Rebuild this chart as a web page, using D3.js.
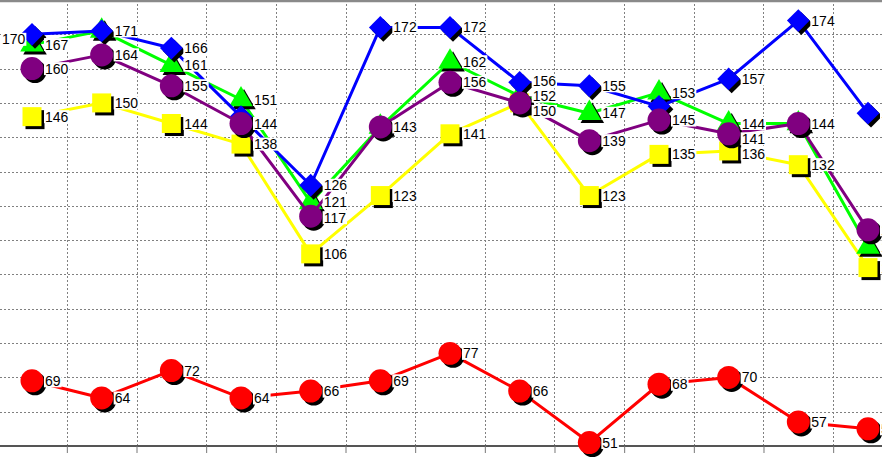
<!DOCTYPE html>
<html><head><meta charset="utf-8">
<script src="https://cdn.jsdelivr.net/npm/d3@7"></script>
<style>html,body{margin:0;padding:0;background:#fff;overflow:hidden}svg{display:block}</style>
</head><body><svg id="chart" width="882" height="458"></svg>
<script>
// ---- data ----
const categories = ["1","2","3","4","5","6","7","8","9","10","11","12","13"];
const blueValues   = [170,171,166,146,126,172,172,156,155,149,157,174,147];
const greenValues  = [167,171,161,151,121,143,162,152,147,153,144,144,108];
const purpleValues = [160,164,155,144,117,143,156,150,139,145,141,144,113];
const yellowValues = [146,150,144,138,106,123,141,150,123,135,136,132,102];
const redValues    = [69,64,72,64,66,69,77,66,51,68,70,57,55];
const yTickValues  = [50,60,70,80,90,100,110,120,130,140,150,160,170,180];

// ---- series styling (drawing order) ----
const series = [
  {name:"yellow", values:yellowValues, color:"#ffff00", shape:"square"},
  {name:"green",  values:greenValues,  color:"#00ff00", shape:"triangle"},
  {name:"blue",   values:blueValues,   color:"#0000ff", shape:"diamond"},
  {name:"purple", values:purpleValues, color:"#800080", shape:"circle"},
  {name:"red",    values:redValues,    color:"#ff0000", shape:"circle"}
];
const labelOrder = ["green","purple","yellow","red","blue"];

const W = 882, H = 458;
const svg = d3.select("#chart");
const x = d3.scaleBand().domain(categories).range([-2.83, 902.83]).padding(0);
const xIdx = d3.scaleLinear().domain([0, categories.length]).range([-2.83, 902.83]);
const y = d3.scaleLinear().domain([50, 180]).range([446, 0]);
const cx = c => x(c) + x.bandwidth() / 2;

// grid
const grid = svg.append("g");
grid.selectAll("line.h").data(yTickValues.filter(v => v > 50 && v < 180)).join("line")
  .attr("x1", 0).attr("x2", W).attr("y1", d => Math.round(y(d)) + 0.5).attr("y2", d => Math.round(y(d)) + 0.5)
  .attr("stroke", "#808080").attr("stroke-width", 1).attr("stroke-dasharray", "2,2");
grid.selectAll("line.v").data(d3.range(1, categories.length)).join("line")
  .attr("x1", d => Math.round(xIdx(d)) + 0.5).attr("x2", d => Math.round(xIdx(d)) + 0.5)
  .attr("y1", y(180)).attr("y2", y(50))
  .attr("stroke", "#808080").attr("stroke-width", 1).attr("stroke-dasharray", "2,2");

// top border
svg.append("line").attr("x1", 0).attr("x2", W).attr("y1", 1).attr("y2", 1)
  .attr("stroke", "#8a8a8a").attr("stroke-width", 2.5);

// bottom axis
const axis = svg.append("g").attr("transform", `translate(0,${y(50)})`)
  .call(d3.axisBottom(xIdx).tickValues(d3.range(1, categories.length)).tickFormat("").tickSizeInner(7).tickSizeOuter(0));
axis.select(".domain").attr("stroke", "#555").attr("stroke-width", 2).attr("d", `M0,0H${W}`);
axis.selectAll(".tick line").attr("stroke", "#777").attr("stroke-width", 1);

function symbolFor(shape) {
  if (shape === "circle") return d3.symbol(d3.symbolCircle, 415)();
  if (shape === "square") return d3.symbol(d3.symbolSquare, 361)();
  if (shape === "diamond") return d3.symbol(d3.symbolSquare, 260)();
  return d3.symbol(d3.symbolTriangle, 240)();
}

const line = d3.line().x((d, i) => cx(categories[i])).y(d => y(d));

series.forEach(s => {
  const g = svg.append("g");
  g.append("path").datum(s.values).attr("d", line)
    .attr("fill", "none").attr("stroke", s.color).attr("stroke-width", 3).attr("stroke-linejoin", "round");
  const path = symbolFor(s.shape);
  const rot = s.shape === "diamond" ? 45 : 0;
  const pts = s.values.map((v, i) => ({v, c: categories[i]}));
  const m = g.selectAll("g.m").data(pts).join("g")
    .attr("transform", d => `translate(${cx(d.c)},${y(d.v)})`);
  m.append("path").attr("d", path).attr("fill", "#000")
    .attr("transform", `translate(3,3) rotate(${rot})`);
  m.append("path").attr("d", path).attr("fill", s.color)
    .attr("transform", `rotate(${rot})`);
});

// segments for label placement checks
const segments = [];
series.forEach(s => {
  for (let i = 1; i < s.values.length; i++) {
    segments.push([cx(categories[i - 1]), y(s.values[i - 1]), cx(categories[i]), y(s.values[i])]);
  }
});
function crossesLine(b) {
  return segments.some(([x1, y1, x2, y2]) => {
    for (let t = 0; t <= 1; t += 0.02) {
      const px = x1 + (x2 - x1) * t, py = y1 + (y2 - y1) * t;
      if (px >= b.x0 && px <= b.x1 && py >= b.y0 && py <= b.y1) return true;
    }
    return false;
  });
}

// labels with simple collision avoidance
const labelLayer = svg.append("g").attr("font-family", "Liberation Sans, Arial, sans-serif")
  .attr("font-size", 14).attr("fill", "#000");
const measure = labelLayer.append("text").attr("opacity", 0);
const placed = [];
const boxH = 15;
function hits(b) {
  return placed.some(p => !(b.x1 <= p.x0 || b.x0 >= p.x1 || b.y1 <= p.y0 || b.y0 >= p.y1));
}
categories.forEach((c, i) => {
  labelOrder.forEach(name => {
    const s = series.find(t => t.name === name);
    const v = s.values[i];
    const text = String(v);
    const px = cx(c), py = y(v);
    if (placed.some(p => p.cat === i && p.text === text && Math.abs(p.vy - py) < 8)) return;
    measure.text(text);
    const w = measure.node().getComputedTextLength();
    const mk = (tx, ty) => ({x0: tx - 1, x1: tx + w + 1, y0: ty - boxH / 2, y1: ty + boxH / 2, tx, ty});
    let chosen = null;
    const right = mk(px + 13, py);
    const left = mk(Math.max(2, px - 10 - w), py + 5);
    if (!hits(right)) chosen = right;
    if (!chosen && !hits(left) && !crossesLine(left)) chosen = left;
    if (!chosen) {
      for (let d = 1; d <= 20 && !chosen; d += 0.5) {
        const up = mk(px + 13, py - d), dn = mk(px + 13, py + d);
        if (!hits(up)) chosen = up; else if (!hits(dn)) chosen = dn;
      }
    }
    if (!chosen && !hits(left)) chosen = left;
    if (!chosen) return;
    placed.push({...chosen, cat: i, text, vy: py});
    labelLayer.append("rect").attr("x", chosen.x0).attr("y", chosen.y0 + 1)
      .attr("width", chosen.x1 - chosen.x0).attr("height", boxH - 2).attr("fill", "#fff");
    labelLayer.append("text").attr("x", chosen.tx).attr("y", chosen.ty).attr("dy", "0.36em").text(text);
  });
});
measure.remove();
</script></body></html>
